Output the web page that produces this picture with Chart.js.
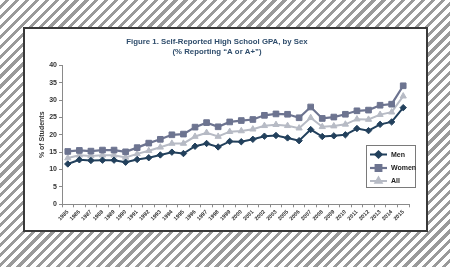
<!DOCTYPE html>
<html>
<head>
<meta charset="utf-8">
<script src="https://cdn.jsdelivr.net/npm/chart.js@4"></script>
<style>
  html, body { margin:0; padding:0; }
  body {
    width:450px; height:267px; overflow:hidden; position:relative;
    background: repeating-linear-gradient(135deg, #ffffff 0px, #ffffff 4px, #9a9a9a 4px, #9a9a9a 7px);
  }
  #panel {
    position:absolute; left:23px; top:27px; width:401px; height:201px;
    background:#fff; border:2px solid #3a3a3a;
  }
  canvas { display:block; }
</style>
</head>
<body>
<div id="panel"><canvas id="c" width="401" height="201"></canvas></div>
<script>
const years = ["1985","1986","1987","1988","1989","1990","1991","1992","1993","1994","1995","1996","1997","1998","1999","2000","2001","2002","2003","2005","2006","2007","2008","2009","2010","2011","2012","2013","2014","2015"];
const men   = [11.6,12.8,12.6,12.7,12.7,12.1,12.9,13.4,14.2,15.0,14.6,16.7,17.5,16.5,18.1,18.0,18.7,19.6,19.8,19.1,18.3,21.5,19.5,19.7,20.0,21.8,21.2,23.0,23.7,27.8];
const women = [15.2,15.5,15.3,15.6,15.6,15.1,16.3,17.6,18.7,20.0,20.2,22.2,23.5,22.3,23.7,24.1,24.4,25.6,26.0,25.9,24.9,28.0,24.7,25.1,25.9,26.9,27.1,28.5,28.8,34.1];
const all   = [13.3,14.1,13.9,14.1,14.1,13.5,14.5,15.4,16.4,17.5,17.5,19.5,20.6,19.5,20.9,21.1,21.6,22.6,22.9,22.6,21.9,24.9,22.3,22.5,23.0,24.5,24.4,25.8,26.5,31.1];
const titleLines = ["Figure 1. Self-Reported High School GPA, by Sex", "(% Reporting \u201CA or A+\u201D)"];
const yTitle = "% of Students";

const FONT = "'Liberation Sans', Arial, sans-serif";

const legendPlugin = {
  id: 'boxLegend',
  afterDatasetsDraw(chart) {
    const ctx = chart.ctx;
    const bx = 341, by = 116, bw = 49, bh = 42;
    ctx.save();
    ctx.fillStyle = '#fff';
    ctx.fillRect(bx, by, bw, bh);
    ctx.strokeStyle = '#7a7a7a';
    ctx.lineWidth = 1;
    ctx.strokeRect(bx + 0.5, by + 0.5, bw, bh);
    const rows = [125.5, 139, 152];
    chart.data.datasets.forEach((ds, i) => {
      const y = rows[i];
      ctx.strokeStyle = ds.borderColor;
      ctx.lineWidth = ds.borderWidth;
      ctx.beginPath();
      ctx.moveTo(345, y); ctx.lineTo(362, y); ctx.stroke();
      ctx.fillStyle = ds.pointBackgroundColor;
      ctx.strokeStyle = ds.borderColor;
      Chart.helpers.drawPoint(ctx, {pointStyle: ds.pointStyle, radius: ds.pointRadius, borderWidth: 1, rotation: 0}, 353.5, y);
      ctx.fillStyle = '#222';
      ctx.font = 'bold 7px ' + FONT;
      ctx.textBaseline = 'middle';
      ctx.textAlign = 'left';
      ctx.fillText(ds.label, 366, y + 0.5);
    });
    ctx.restore();
  }
};

new Chart(document.getElementById('c'), {
  type: 'line',
  data: {
    labels: years,
    datasets: [
      { label: 'Men', data: men, borderColor: '#22405c', backgroundColor: '#22405c', pointBackgroundColor: '#22405c', pointBorderColor: '#22405c', borderWidth: 2, pointStyle: 'rectRot', pointRadius: 3.2, pointBorderWidth: 1, tension: 0 },
      { label: 'Women', data: women, borderColor: '#6d7490', backgroundColor: '#6d7490', pointBackgroundColor: '#6d7490', pointBorderColor: '#6d7490', borderWidth: 2.2, pointStyle: 'rect', pointRadius: 4.0, pointBorderWidth: 1, tension: 0 },
      { label: 'All', data: all, borderColor: '#b7bbc5', backgroundColor: '#b7bbc5', pointBackgroundColor: '#b7bbc5', pointBorderColor: '#b7bbc5', borderWidth: 2, pointStyle: 'triangle', pointRadius: 3.6, pointBorderWidth: 1, tension: 0 }
    ]
  },
  options: {
    responsive: false,
    animation: false,
    layout: { padding: { left: 0, right: 17, top: 0, bottom: 0 } },
    plugins: {
      legend: { display: false },
      tooltip: { enabled: false },
      title: {
        display: true,
        text: titleLines,
        color: '#2f4d6c',
        font: { family: FONT, size: 7.8, weight: 'bold', lineHeight: 1.28 },
        padding: { top: 8, bottom: 8.3 }
      }
    },
    scales: {
      x: {
        offset: true,
        grid: { display: true, drawOnChartArea: false, drawTicks: true, tickLength: 3, color: '#8a8a8a', offset: true },
        border: { display: true, color: '#8a8a8a', width: 1 },
        ticks: { autoSkip: false, maxRotation: 45, minRotation: 45, padding: 1.5, color: '#333', font: { family: FONT, size: 5.5, weight: 'bold' } },
        afterFit(s) { s.height = 25.7; }
      },
      y: {
        min: 0, max: 40,
        grid: { display: true, drawOnChartArea: false, drawTicks: true, tickLength: 3, color: '#8a8a8a' },
        border: { display: true, color: '#8a8a8a', width: 1 },
        ticks: { stepSize: 5, padding: 2, color: '#333', font: { family: FONT, size: 7, weight: 'bold' } },
        title: { display: true, text: yTitle, color: '#333', font: { family: FONT, size: 7, weight: 'bold' }, padding: { top: 13, bottom: 0 } },
        afterFit(s) { s.width = 37; }
      }
    }
  },
  plugins: [legendPlugin]
});
</script>
</body>
</html>
